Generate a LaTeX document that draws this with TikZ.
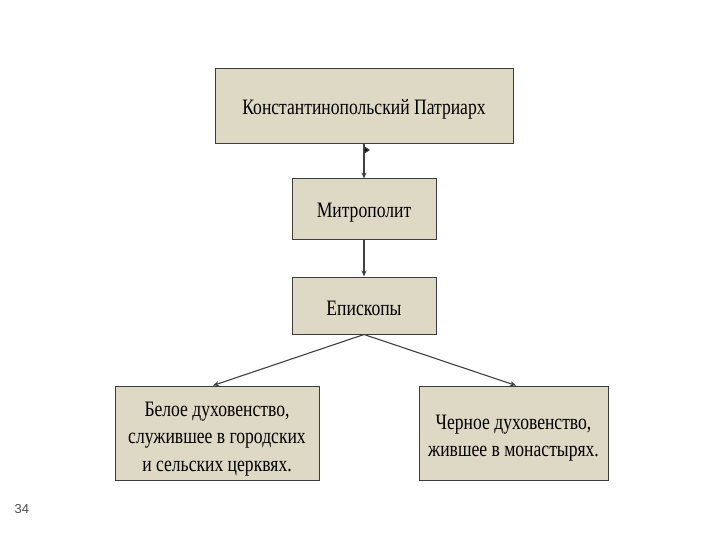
\documentclass[tikz,border=0pt]{standalone}
\usepackage{fontspec}
\setmainfont[FakeStretch=0.8]{Liberation Serif}
\newfontfamily\numfont{Liberation Sans}
\usetikzlibrary{arrows.meta}
\definecolor{boxfill}{HTML}{DDD9C4}
\definecolor{boxline}{HTML}{3C3C3C}
\definecolor{conn}{HTML}{404040}
\tikzset{
  box/.style={draw=boxline, line width=1pt, fill=boxfill, rectangle, inner sep=0pt},
  lbl/.style={inner sep=0pt, font=\fontsize{22}{27.5}\selectfont, text=black, align=center},
  conn/.style={draw=conn, line width=1.1pt, -{Stealth[length=6pt,width=5pt]}}
}
\begin{document}
\begin{tikzpicture}[x=1pt,y=-1pt]
\useasboundingbox (0,0) rectangle (720,540);
\node[box, minimum width=298pt, minimum height=75pt] (patr) at (364,106.5) {};
\node[box, minimum width=144pt, minimum height=60pt] (mitr) at (364,209) {};
\node[box, minimum width=144pt, minimum height=57pt] (episk) at (364,305.5) {};
\node[box, minimum width=204pt, minimum height=94pt] (white) at (217,433) {};
\node[box, minimum width=189pt, minimum height=94pt] (black) at (513.5,433) {};
\node[lbl] (patrt) at ([yshift=-3pt]patr.center) {Константинопольский Патриарх};
\node[lbl] (mitrt) at ([yshift=-4pt]mitr.center) {Митрополит};
\node[lbl] (episkt) at ([yshift=-3pt]episk.center) {Епископы};
\node[lbl] (whitet) at ([yshift=-6pt]white.center) {Белое духовенство,\\служившее в городских\\и сельских церквях.};
\node[lbl] (blackt) at ([yshift=-5pt]black.center) {Черное духовенство,\\жившее в монастырях.};
\draw[conn] (patr.south) -- (mitr.north);
\fill[conn] (364.5,147) -- (369,150) -- (364.5,153) -- cycle;
\draw[conn] (mitr.south) -- (episk.north);
\draw[conn] (episk.south) -- ([xshift=-4pt]white.north);
\draw[conn] (episk.south) -- ([xshift=2.5pt]black.north);
\node[anchor=west, font=\numfont\fontsize{13}{15}\selectfont, text=black!70] (num) at (11,509) {34};
\end{tikzpicture}
\end{document}
